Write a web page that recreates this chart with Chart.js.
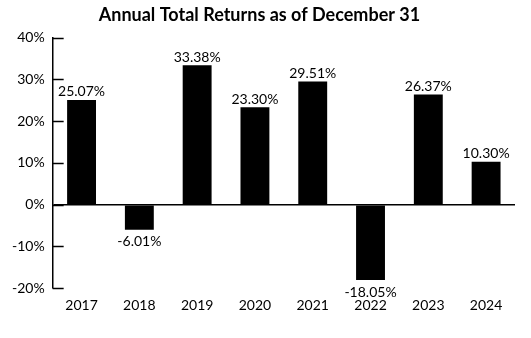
<!DOCTYPE html>
<html>
<head>
<meta charset="utf-8">
<script src="https://cdn.jsdelivr.net/npm/chart.js@4"></script>
<style>
  html, body { margin: 0; padding: 0; background: #fff; }
  #wrap { width: 531px; height: 338px; }
</style>
</head>
<body>
<div id="wrap"><canvas id="returnsChart" width="531" height="338"></canvas></div>
<script>
const years = ['2017', '2018', '2019', '2020', '2021', '2022', '2023', '2024'];
const returns = [25.07, -6.01, 33.38, 23.30, 29.51, -18.05, 26.37, 10.30];
const yTicks = [-20, -10, 0, 10, 20, 30, 40];
const chartTitle = 'Annual Total Returns as of December 31';

const FONT = 'Lato, "Open Sans", sans-serif';

// value labels above / below each bar, plus the inside tick marks on the y axis
const barLabels = {
    id: 'barLabels',
    afterDatasetsDraw(chart) {
        let ctx = chart.ctx;
        let meta = chart.getDatasetMeta(0);
        ctx.save();
        ctx.fillStyle = '#000';
        ctx.font = '14px ' + FONT;
        ctx.textAlign = 'center';
        meta.data.forEach((bar, i) => {
            let v = returns[i];
            let text = v.toFixed(2) + '%';
            if (v >= 0) {
                ctx.textBaseline = 'bottom';
                ctx.fillText(text, bar.x, bar.y - 1);
            } else {
                ctx.textBaseline = 'top';
                ctx.fillText(text, bar.x, bar.y + 5);
            }
        });

        let y = chart.scales.y;
        let left = chart.chartArea.left;
        ctx.strokeStyle = '#000';
        ctx.lineWidth = 1.5;
        yTicks.forEach(t => {
            let py = Math.round(y.getPixelForValue(t)) + 0.5;
            ctx.beginPath();
            ctx.moveTo(left, py);
            ctx.lineTo(left + 11, py);
            ctx.stroke();
        });
        ctx.restore();
    }
};

let context = document.getElementById('returnsChart').getContext('2d');
new Chart(context, {
    type: 'bar',
    data: {
        labels: years,
        datasets: [{
            data: returns,
            backgroundColor: '#000',
            borderWidth: 0,
            categoryPercentage: 1,
            barPercentage: 0.5
        }]
    },
    options: {
        responsive: false,
        animation: false,
        devicePixelRatio: 1,
        layout: { padding: { left: 4, right: 16, top: 0, bottom: 15 } },
        plugins: {
            legend: { display: false },
            tooltip: { enabled: false },
            title: {
                display: true,
                text: chartTitle,
                color: '#000',
                font: { family: FONT, size: 18, weight: 'bold' },
                padding: { top: 4, bottom: 12 }
            }
        },
        scales: {
            x: {
                grid: { display: false, drawTicks: false },
                border: { display: false },
                ticks: {
                    color: '#000',
                    font: { family: FONT, size: 14 },
                    padding: 9
                }
            },
            y: {
                min: -20,
                max: 40,
                afterBuildTicks(scale) {
                    scale.ticks = yTicks.map(v => ({ value: v }));
                },
                grid: {
                    drawTicks: false,
                    lineWidth: 1.5,
                    color: ctx => ctx.tick && ctx.tick.value === 0 ? '#000' : 'rgba(0,0,0,0)'
                },
                border: { display: true, color: '#000', width: 1.5 },
                ticks: {
                    color: '#000',
                    font: { family: FONT, size: 14 },
                    padding: 8,
                    callback: v => v + '%'
                }
            }
        }
    },
    plugins: [barLabels]
});
</script>
</body>
</html>
